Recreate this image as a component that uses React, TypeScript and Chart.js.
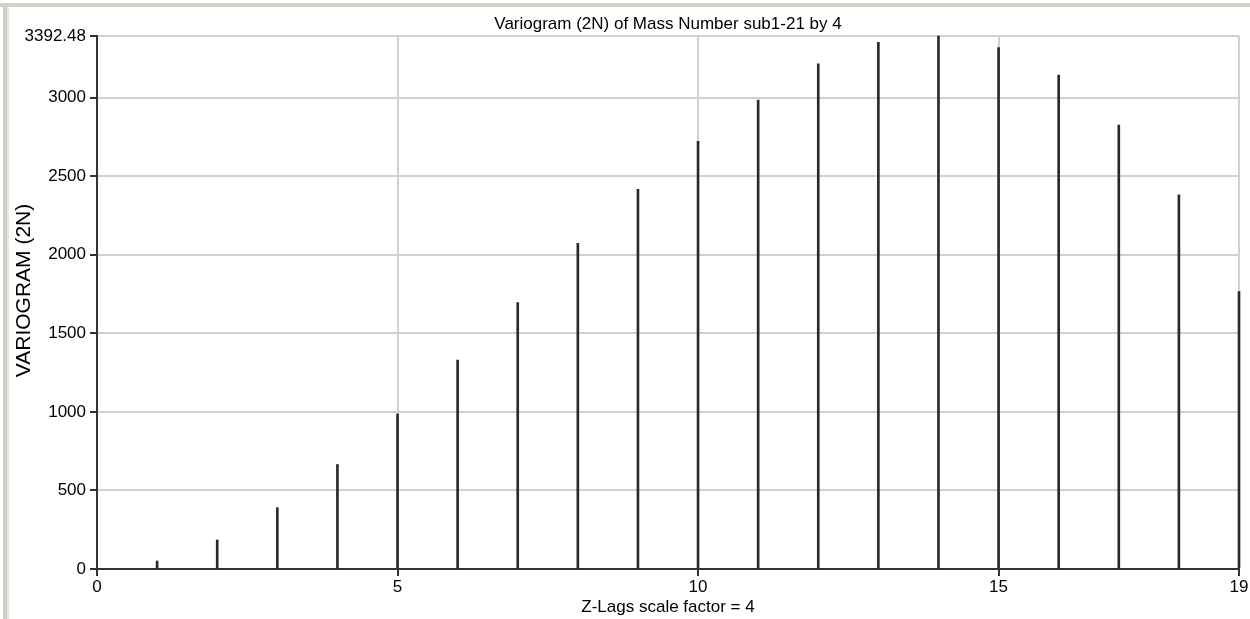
import React, { useEffect, useRef } from "react";
import { Chart, registerables } from "chart.js";

Chart.register(...registerables);

// ---- data ----
const lags: number[] = [1, 2, 3, 4, 5, 6, 7, 8, 9, 10, 11, 12, 13, 14, 15, 16, 17, 18, 19];
const variogram: number[] = [
  51, 185, 390, 665, 987, 1330, 1695, 2073, 2417, 2722, 2985, 3215, 3352, 3392.48, 3318, 3144, 2826, 2381, 1765,
];
const yTickValues: number[] = [0, 500, 1000, 1500, 2000, 2500, 3000, 3392.48];
const xTickValues: number[] = [0, 5, 10, 15, 19];
const yMax = 3392.48;
const xMax = 19;

const chartTitle = "Variogram (2N) of Mass Number sub1-21 by 4";
const xTitle = "Z-Lags scale factor = 4";
const yTitle = "VARIOGRAM (2N)";

const FONT = "'Liberation Sans', Arial, sans-serif";

const decorPlugin = {
  id: "decor",
  beforeDraw(chart: any) {
    const ctx = chart.ctx;
    const w = chart.width;
    const h = chart.height;
    ctx.save();
    ctx.fillStyle = "#ffffff";
    ctx.fillRect(0, 0, w, h);
    // window frame
    ctx.fillStyle = "#d4d0c8";
    ctx.fillRect(0, 3, w, 4);
    ctx.fillRect(3, 3, 4, h - 3);
    ctx.fillStyle = "#e8e6e0";
    ctx.fillRect(7, 7, 2, h - 7);
    ctx.restore();
  },
  afterDraw(chart: any) {
    const ctx = chart.ctx;
    const a = chart.chartArea;
    const cx = (a.left + a.right) / 2;
    ctx.save();
    ctx.fillStyle = "#000";
    ctx.textAlign = "center";
    ctx.textBaseline = "alphabetic";
    ctx.font = `17px ${FONT}`;
    ctx.fillText(chartTitle, cx, 29);
    ctx.fillText(xTitle, cx, 612);
    ctx.translate(24, (a.top + a.bottom) / 2 - 12);
    ctx.rotate(-Math.PI / 2);
    ctx.textBaseline = "middle";
    ctx.font = `21px ${FONT}`;
    ctx.fillText(yTitle, 0, 0);
    ctx.restore();
  },
};

export default function App() {
  const ref = useRef<HTMLCanvasElement | null>(null);

  useEffect(() => {
    if (!ref.current) return;
    const chart = new Chart(ref.current, {
      type: "bar",
      data: {
        datasets: [
          {
            data: lags.map((x, i) => ({ x, y: variogram[i] })),
            backgroundColor: "#2a2a2a",
            borderWidth: 0,
            barThickness: 2,
            clip: false as any,
          },
        ],
      },
      options: {
        animation: false,
        responsive: false,
        events: [],
        layout: { padding: { left: 0, top: 36, right: 11, bottom: 0 } },
        plugins: {
          legend: { display: false },
          tooltip: { enabled: false },
          title: { display: false },
        },
        scales: {
          x: {
            type: "linear",
            min: 0,
            max: xMax,
            offset: false,
            afterFit: (s: any) => {
              s.height = 50;
            },
            afterBuildTicks: (s: any) => {
              s.ticks = xTickValues.map((v) => ({ value: v }));
            },
            ticks: {
              autoSkip: false,
              maxRotation: 0,
              padding: 1,
              color: "#000",
              font: { family: FONT, size: 17 },
              callback: (v: any) => String(v),
            },
            grid: {
              offset: false,
              color: "#d0d0d0",
              lineWidth: 2,
              drawTicks: true,
              tickLength: 7,
              tickColor: "#333",
              tickWidth: 2,
            },
            border: { display: true, color: "#333", width: 2 },
          },
          y: {
            type: "linear",
            min: 0,
            max: yMax,
            afterFit: (s: any) => {
              s.width = 97;
            },
            afterBuildTicks: (s: any) => {
              s.ticks = yTickValues.map((v) => ({ value: v }));
            },
            ticks: {
              autoSkip: false,
              padding: 4,
              color: "#000",
              font: { family: FONT, size: 17 },
              callback: (v: any) => (Number(v) === yMax ? yMax.toFixed(2) : String(v)),
            },
            grid: {
              color: "#d0d0d0",
              lineWidth: 2,
              drawTicks: true,
              tickLength: 7,
              tickColor: "#333",
              tickWidth: 2,
            },
            border: { display: true, color: "#333", width: 2 },
          },
        },
      },
      plugins: [decorPlugin],
    });
    return () => chart.destroy();
  }, []);

  return (
    <div style={{ position: "absolute", left: 0, top: 0, width: 1250, height: 619 }}>
      <canvas ref={ref} width={1250} height={619} style={{ display: "block" }} />
    </div>
  );
}
